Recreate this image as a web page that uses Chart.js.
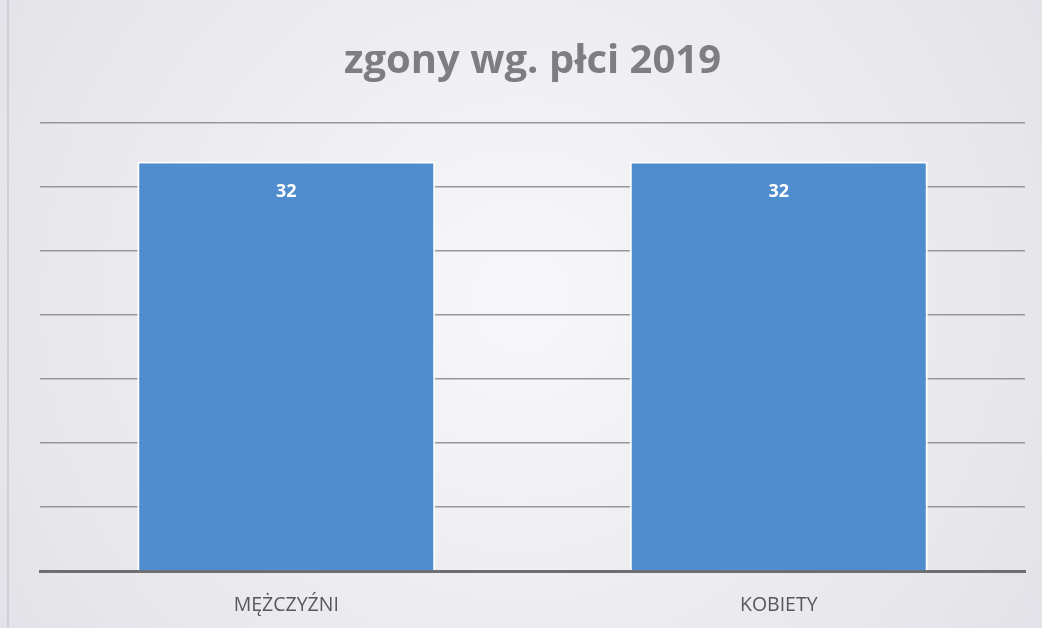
<!DOCTYPE html>
<html>
<head>
<meta charset="utf-8">
<script src="https://cdn.jsdelivr.net/npm/chart.js@4"></script>
<style>
  html, body { margin: 0; padding: 0; background: #ececf0; }
  #wrap { width: 1042px; height: 628px; position: relative; }
</style>
</head>
<body>
<div id="wrap"><canvas id="c" width="1042" height="628"></canvas></div>
<script>
const categories = ["MĘŻCZYŹNI", "KOBIETY"];
const deaths = [32, 32];
const chartTitle = "zgony wg. płci 2019";

const bgPlugin = {
  id: 'bg',
  beforeDraw(chart) {
    const ctx = chart.ctx;
    const g = ctx.createRadialGradient(521, 300, 50, 521, 300, 620);
    g.addColorStop(0, '#f6f6f8');
    g.addColorStop(1, '#e2e2e8');
    ctx.save();
    ctx.fillStyle = g;
    ctx.fillRect(0, 0, chart.width, chart.height);
    ctx.fillStyle = '#cfcfd5';
    ctx.fillRect(7, 0, 2, chart.height);
    ctx.restore();
  }
};

const labelPlugin = {
  id: 'barLabels',
  afterDatasetsDraw(chart) {
    const ctx = chart.ctx;
    const meta = chart.getDatasetMeta(0);
    ctx.save();
    ctx.fillStyle = '#ffffff';
    ctx.font = 'bold 18px "Open Sans", sans-serif';
    ctx.textAlign = 'center';
    ctx.textBaseline = 'middle';
    meta.data.forEach((bar, i) => {
      ctx.fillText(String(chart.data.datasets[0].data[i]), bar.x, bar.y + 30);
    });
    ctx.restore();
  }
};

new Chart(document.getElementById('c'), {
  type: 'bar',
  data: {
    labels: categories,
    datasets: [{
      data: deaths,
      backgroundColor: '#4f8dcf',
      borderColor: '#ffffff',
      borderWidth: 2,
      borderSkipped: 'bottom',
      categoryPercentage: 1,
      barPercentage: 0.605
    }]
  },
  options: {
    responsive: false,
    animation: false,
    layout: { padding: { left: 40, right: 17, top: 0, bottom: 0 } },
    plugins: {
      legend: { display: false },
      tooltip: { enabled: false },
      title: {
        display: true,
        text: chartTitle,
        color: '#7e7e82',
        font: { family: '"Open Sans", sans-serif', size: 40, weight: 'bold' },
        padding: { top: 38, bottom: 37 }
      }
    },
    scales: {
      x: {
        grid: { display: false, drawTicks: false },
        border: { display: true, color: '#6e6e72', width: 3 },
        ticks: {
          color: '#58585c',
          font: { family: '"Open Sans", sans-serif', size: 19.5 },
          padding: 23
        },
        afterFit(scale) { scale.height = 57; }
      },
      y: {
        min: 0,
        max: 35,
        ticks: { display: false, stepSize: 5 },
        grid: { color: '#96969e', lineWidth: 1.5, drawTicks: false },
        border: { display: false }
      }
    }
  },
  plugins: [bgPlugin, labelPlugin]
});
</script>
</body>
</html>
